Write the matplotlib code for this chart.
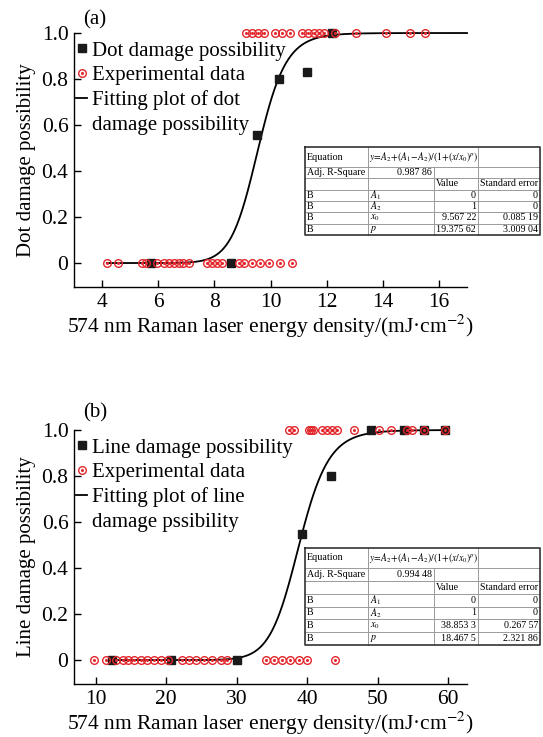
import numpy as np
import matplotlib
matplotlib.use('Agg')
import matplotlib.pyplot as plt
from matplotlib.lines import Line2D
from matplotlib.legend_handler import HandlerTuple

plt.rcParams['font.family'] = ['Liberation Serif', 'DejaVu Serif']
plt.rcParams['mathtext.fontset'] = 'stix'

RED = '#e3262b'

# ---- panel (a): dot damage ----
dot_x = [5.75, 8.6, 9.53, 10.31, 11.3, 12.18]
dot_y = [0, 0, 0.557, 0.80, 0.83, 1.0]
dot_exp_0 = [4.17, 4.56, 5.42, 5.58, 5.96, 6.19, 6.37, 6.55, 6.73, 6.90, 7.08,
             7.74, 7.91, 8.09, 8.27, 8.86, 9.06, 9.34, 9.61, 9.93, 10.35, 10.76]
dot_exp_1 = [9.14, 9.34, 9.54, 9.75, 10.17, 10.41, 10.70, 11.12, 11.33, 11.54,
             11.72, 11.92, 12.30, 13.05, 14.12, 14.97, 15.51]
dot_fit = dict(A1=0, A2=1, x0=9.56722, p=19.37562)
dot_table = ['0.987 86', ['0', '1', '9.567 22', '19.375 62'], ['0', '0', '0.085 19', '3.009 04']]

# ---- panel (b): line damage ----
line_x = [12.3, 20.6, 30.0, 39.3, 43.4, 49.05, 53.8, 56.6, 59.6]
line_y = [0, 0, 0, 0.547, 0.80, 1.0, 1.0, 1.0, 1.0]
line_exp_0 = [9.8, 11.4, 12.8, 13.8, 14.5, 15.4, 16.4, 17.3, 18.3, 19.2, 20.2,
              22.3, 23.2, 24.2, 25.3, 26.5, 27.7, 28.6, 34.1, 35.3, 36.4, 37.6,
              38.8, 40.0, 44.0]
line_exp_1 = [37.4, 38.1, 40.3, 40.6, 40.9, 42.1, 42.8, 43.5, 44.3, 46.7, 50.2,
              51.9, 54.2, 54.9, 56.6, 59.6]
line_fit = dict(A1=0, A2=1, x0=38.8533, p=18.4675)
line_table = ['0.994 48', ['0', '1', '38.853 3', '18.467 5'], ['0', '0', '0.267 57', '2.321 86']]

param_names = ['$A_1$', '$A_2$', '$x_0$', '$p$']
equation = r'$y\!=\!A_2\!+\!(A_1\!-\!A_2)/(1\!+\!(x/x_0)^p)$'

W, H = 543, 737
fig = plt.figure(figsize=(W / 100, H / 100), dpi=100)


def px(x, y):
    return x / W, 1 - y / H


def fitcurve(x, A1, A2, x0, p):
    return A2 + (A1 - A2) / (1 + (x / x0) ** p)


def draw_table(top, bottom, vals):
    cols = [305, 368, 434, 478, 540]
    rows = [top, top + 20] + list(np.linspace(top + 20, bottom, 7)[1:])
    thin = dict(color='#9a9a9a', lw=0.7)
    for r in rows[1:-1]:
        fig.add_artist(Line2D([cols[0] / W, cols[-1] / W], [1 - r / H] * 2, **thin))
    for c in cols[1:-1]:
        for i in range(len(rows) - 1):
            if c == cols[2] and i == 0:
                continue
            fig.add_artist(Line2D([c / W] * 2, [1 - rows[i] / H, 1 - rows[i + 1] / H], **thin))
    bx = [cols[0], cols[-1], cols[-1], cols[0], cols[0]]
    by = [top, top, bottom, bottom, top]
    fig.add_artist(Line2D([v / W for v in bx], [1 - v / H for v in by], color='#333333', lw=1.2))

    fs = 7.2
    def cell(c, r, s, ha='left'):
        yc = 1 - (rows[r] + rows[r + 1]) / 2 / H
        if ha == 'left':
            xx = (cols[c] + 2) / W
        else:
            xx = (cols[c + 1] - 2) / W
        fig.text(xx, yc, s, ha=ha, va='center', fontsize=fs)

    cell(0, 0, 'Equation')
    fig.text((cols[1] + 1) / W, 1 - (rows[0] + rows[1]) / 2 / H, equation,
             ha='left', va='center', fontsize=6.9)
    cell(0, 1, 'Adj. R-Square')
    cell(1, 1, vals[0], ha='right')
    cell(2, 2, 'Value')
    cell(3, 2, 'Standard error')
    for i in range(4):
        cell(0, 3 + i, 'B')
        cell(1, 3 + i, param_names[i])
        cell(2, 3 + i, vals[1][i], ha='right')
        cell(3, 3 + i, vals[2][i], ha='right')


def panel(ax, sq_x, sq_y, e0, e1, fit, xlim, xticks, xr, labels, ylabel):
    xf = np.linspace(xr[0], xr[1], 400)
    ax.plot(xf, fitcurve(xf, **fit), color='black', lw=1.3, clip_on=False, zorder=2)
    sq, = ax.plot(sq_x, sq_y, 's', color='#1a1a1a', ms=5.5, clip_on=False, zorder=3)
    ex = list(e0) + list(e1)
    ey = [0] * len(e0) + [1] * len(e1)
    circ, = ax.plot(ex, ey, 'o', mfc='none', mec=RED, mew=1.0, ms=5.5,
                    clip_on=False, zorder=4)
    dot, = ax.plot(ex, ey, 'o', color=RED, ms=1.2, clip_on=False, zorder=4)
    fl = Line2D([], [], color='black', lw=1.3)
    blank = Line2D([], [], linestyle='none')
    ax.legend([sq, (circ, dot), fl, blank], labels, loc='upper left',
              bbox_to_anchor=(0.005, 0.968), frameon=False, fontsize=15,
              handlelength=0.55, handletextpad=0.2, labelspacing=0.24,
              borderpad=0.0, borderaxespad=0.0,
              handler_map={tuple: HandlerTuple(ndivide=1, pad=0)})
    ax.set_xlim(*xlim)
    ax.set_ylim(-0.104, 1.0)
    ax.set_xticks(xticks)
    ax.set_yticks([0, 0.2, 0.4, 0.6, 0.8, 1.0])
    ax.set_yticklabels(['0', '0.2', '0.4', '0.6', '0.8', '1.0'])
    ax.spines['top'].set_visible(False)
    ax.spines['right'].set_visible(False)
    for s in ['left', 'bottom']:
        ax.spines[s].set_linewidth(1.0)
    ax.tick_params(direction='in', length=5, width=1, labelsize=15.5, pad=4)
    ax.set_xlabel('574 nm Raman laser energy density/(mJ·cm$^{-2}$)', fontsize=15.5, labelpad=1)
    ax.set_ylabel(ylabel, fontsize=15, labelpad=4)


ax1 = fig.add_axes([0.1363, 0.6106, 0.7238, 0.3446])
panel(ax1, dot_x, dot_y, dot_exp_0, dot_exp_1, dot_fit, (3.0, 17.0),
      [4, 6, 8, 10, 12, 14, 16], (4.17, 17.0),
      ['Dot damage possibility', 'Experimental data',
       'Fitting plot of dot', 'damage possibility'], 'Dot damage possibility')

ax2 = fig.add_axes([0.1363, 0.0719, 0.7238, 0.3446])
panel(ax2, line_x, line_y, line_exp_0, line_exp_1, line_fit, (6.9, 62.7),
      [10, 20, 30, 40, 50, 60], (12.0, 60.0),
      ['Line damage possibility', 'Experimental data',
       'Fitting plot of line', 'damage pssibility'], 'Line damage possibility')

fig.text(*px(83, 20), '(a)', fontsize=15, va='center')
fig.text(*px(83, 413), '(b)', fontsize=15, va='center')

draw_table(147, 235, dot_table)
draw_table(548, 645, line_table)

fig.savefig('out.png', dpi=100)
